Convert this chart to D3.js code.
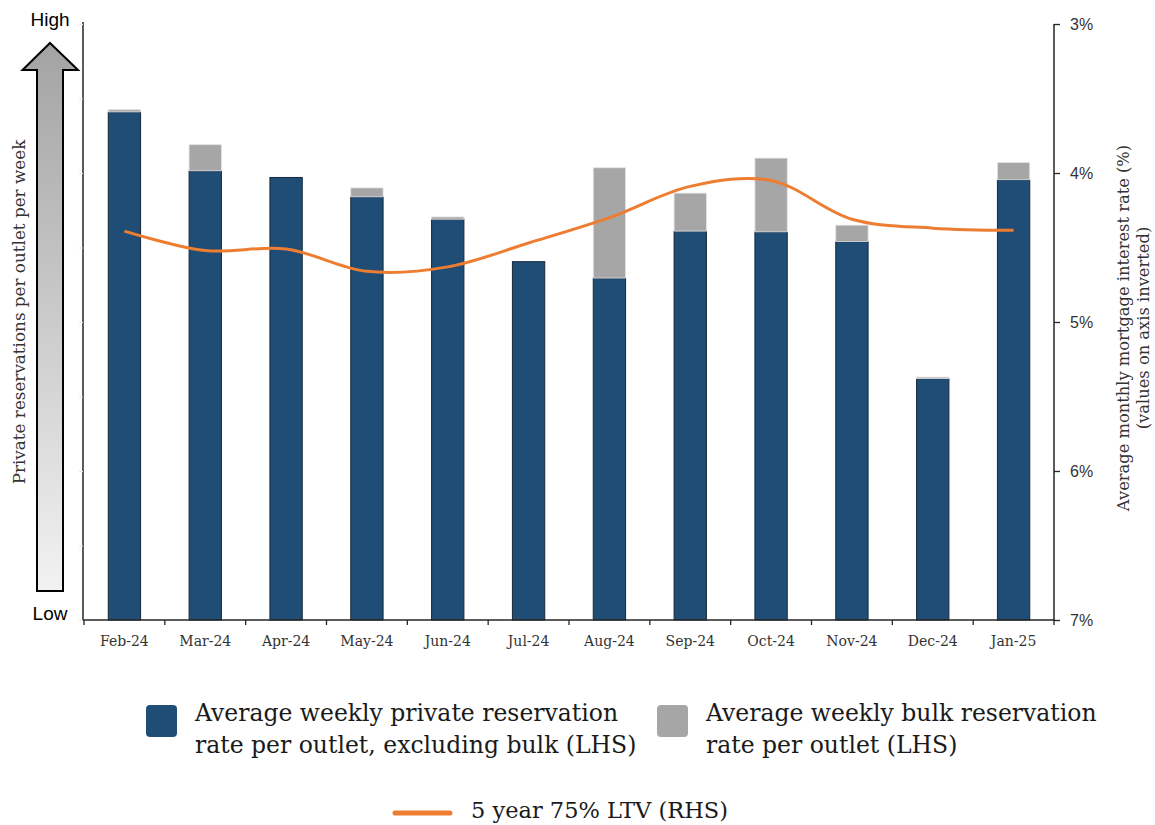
<!DOCTYPE html>
<html>
<head>
<meta charset="utf-8">
<script src="https://cdn.jsdelivr.net/npm/d3@7"></script>
<style>
  html, body { margin: 0; padding: 0; background: #fff; }
  svg { display: block; }
</style>
</head>
<body>
<svg id="chart" width="1155" height="825"></svg>
<script>
// Monthly categories
const months = ["Feb-24", "Mar-24", "Apr-24", "May-24", "Jun-24", "Jul-24",
                "Aug-24", "Sep-24", "Oct-24", "Nov-24", "Dec-24", "Jan-25"];

// Private reservations per outlet per week, excluding bulk (LHS, index units)
const privateRate = [6.82, 6.03, 5.94, 5.68, 5.38, 4.81, 4.59, 5.22, 5.21, 5.08, 3.24, 5.91];

// Bulk reservations per outlet per week, stacked on top (LHS, index units)
const bulkRate = [0.03, 0.35, 0.0, 0.12, 0.03, 0.0, 1.48, 0.51, 0.99, 0.22, 0.02, 0.23];

// 5 year 75% LTV mortgage rate, % (RHS, inverted)
const mortgageRate = [4.39, 4.52, 4.51, 4.66, 4.63, 4.47, 4.30, 4.09, 4.05, 4.31, 4.37, 4.385];

// Axis ticks
const leftTicks = [0, 1, 2, 3, 4, 5, 6, 7, 8];
const rightTicks = [3, 4, 5, 6, 7];

// Legend labels
const legendPrivate = ["Average weekly private reservation", "rate per outlet, excluding bulk (LHS)"];
const legendBulk = ["Average weekly bulk reservation", "rate per outlet (LHS)"];
const legendLine = "5 year 75% LTV (RHS)";

const colPrivate = "#204d75";
const colBulk = "#a6a6a6";
const colLine = "#ed7d31";
const axisCol = "#262626";
const textCol = "#333333";
const serif = "'DejaVu Serif', 'Liberation Serif', serif";
const sans = "'Liberation Sans', Arial, sans-serif";

const svg = d3.select("#chart");

const plot = { left: 84, right: 1054, top: 24, bottom: 620 };

const x = d3.scaleBand()
  .domain(months)
  .range([plot.left, plot.right])
  .paddingInner(0.6)
  .paddingOuter(0.3);

const xTicks = d3.scaleBand().domain(months).range([plot.left, plot.right]).padding(0);

const yLeft = d3.scaleLinear().domain([0, 8]).range([plot.bottom, plot.top]);
const yRight = d3.scaleLinear().domain([3, 7]).range([plot.top, plot.bottom]);

// Left axis: unlabelled ticks
const gLeft = svg.append("g").attr("transform", `translate(${plot.left - 1},0)`)
  .call(d3.axisLeft(yLeft).tickValues(leftTicks).tickSize(4).tickFormat(""));
gLeft.select(".domain").attr("stroke", axisCol).attr("stroke-width", 1.5)
  .attr("d", `M0,${plot.top - 2}V${plot.bottom}`);
gLeft.selectAll(".tick line").attr("stroke", "#e6e6e6");

// Bars: private part
svg.append("g").selectAll("rect")
  .data(months)
  .join("rect")
  .attr("x", (d) => x(d))
  .attr("width", x.bandwidth())
  .attr("y", (d, i) => yLeft(privateRate[i]))
  .attr("height", (d, i) => yLeft(0) - yLeft(privateRate[i]))
  .attr("fill", colPrivate)
  .attr("stroke", "#16283a")
  .attr("stroke-width", 1);

// Bars: bulk part stacked on top
svg.append("g").selectAll("rect")
  .data(months.filter((d, i) => bulkRate[i] > 0))
  .join("rect")
  .attr("x", (d) => x(d))
  .attr("width", x.bandwidth())
  .attr("y", (d) => { const i = months.indexOf(d); return yLeft(privateRate[i] + bulkRate[i]); })
  .attr("height", (d) => { const i = months.indexOf(d); return yLeft(privateRate[i]) - yLeft(privateRate[i] + bulkRate[i]); })
  .attr("fill", colBulk)
  .attr("stroke", "#e3e3e3")
  .attr("stroke-width", 0.8);

// X axis
const gX = svg.append("g").attr("transform", `translate(0,${plot.bottom})`)
  .call(d3.axisBottom(xTicks).tickSize(0).tickPadding(16));
gX.select(".domain").attr("stroke", axisCol).attr("stroke-width", 1.5)
  .attr("d", `M${plot.left - 1},0H${plot.right + 1}`);
gX.selectAll(".tick text")
  .attr("font-family", serif).attr("font-size", 14).attr("fill", textCol);
// Category boundary ticks
svg.append("g").selectAll("line")
  .data(months.concat(["end"]))
  .join("line")
  .attr("x1", (d) => d === "end" ? plot.right : xTicks(d))
  .attr("x2", (d) => d === "end" ? plot.right : xTicks(d))
  .attr("y1", plot.bottom)
  .attr("y2", plot.bottom + 5)
  .attr("stroke", axisCol)
  .attr("stroke-width", 1.3);

// Right axis (inverted)
const gRight = svg.append("g").attr("transform", `translate(${plot.right},0)`)
  .call(d3.axisRight(yRight).tickValues(rightTicks).tickSize(6).tickPadding(10)
    .tickFormat((d) => d + "%"));
gRight.select(".domain").attr("stroke", axisCol).attr("stroke-width", 1.5)
  .attr("d", `M0,${plot.top}V${plot.bottom}`);
gRight.selectAll(".tick line").attr("stroke", axisCol).attr("stroke-width", 1.3);
gRight.selectAll(".tick text")
  .attr("font-family", sans).attr("font-size", 16).attr("fill", textCol);

// Mortgage rate line
const line = d3.line()
  .x((d, i) => xTicks(months[i]) + xTicks.bandwidth() / 2)
  .y((d) => yRight(d))
  .curve(d3.curveCatmullRom.alpha(0.5));

svg.append("path")
  .datum(mortgageRate)
  .attr("d", line)
  .attr("fill", "none")
  .attr("stroke", colLine)
  .attr("stroke-width", 3);

// Right axis title
const rTitle = svg.append("text")
  .attr("transform", "translate(1129,328) rotate(-90)")
  .attr("text-anchor", "middle")
  .attr("font-family", serif).attr("font-size", 16.3).attr("fill", textCol);
rTitle.append("tspan").attr("x", 0).attr("dy", 0).text("Average monthly mortgage interest rate (%)");
rTitle.append("tspan").attr("x", 0).attr("dy", 19.5).text("(values on axis inverted)");

// Left direction arrow with gradient
const defs = svg.append("defs");
const grad = defs.append("linearGradient")
  .attr("id", "arrowFill").attr("x1", 0).attr("y1", 0).attr("x2", 0).attr("y2", 1);
grad.append("stop").attr("offset", "0%").attr("stop-color", "#a3a3a3");
grad.append("stop").attr("offset", "100%").attr("stop-color", "#f2f2f2");

const arrowPts = [[50, 43], [78, 70], [63, 70], [63, 591], [37, 591], [37, 70], [22.5, 70]];
svg.append("path")
  .attr("d", d3.line()(arrowPts) + "Z")
  .attr("fill", "url(#arrowFill)")
  .attr("stroke", "#000")
  .attr("stroke-width", 2)
  .attr("stroke-linejoin", "miter");

svg.append("text").attr("x", 50).attr("y", 26).attr("text-anchor", "middle")
  .attr("font-family", sans).attr("font-size", 19).attr("fill", "#000").text("High");
svg.append("text").attr("x", 50).attr("y", 620).attr("text-anchor", "middle")
  .attr("font-family", sans).attr("font-size", 19).attr("fill", "#000").text("Low");

svg.append("text")
  .attr("transform", "translate(25,312) rotate(-90)")
  .attr("text-anchor", "middle")
  .attr("font-family", serif).attr("font-size", 16.8).attr("fill", textCol)
  .text("Private reservations per outlet per week");

// Legend
const legend = svg.append("g");
function legendItem(x0, color, lines) {
  legend.append("rect").attr("x", x0).attr("y", 705).attr("width", 31).attr("height", 32)
    .attr("rx", 4).attr("fill", color);
  const t = legend.append("text").attr("font-family", serif).attr("font-size", 23.5)
    .attr("fill", "#1a1a1a");
  lines.forEach((s, i) => {
    t.append("tspan").attr("x", x0 + 49).attr("y", 721 + i * 32).text(s);
  });
}
legendItem(146, colPrivate, legendPrivate);
legendItem(657, colBulk, legendBulk);

legend.append("line").attr("x1", 395).attr("x2", 450).attr("y1", 813).attr("y2", 813)
  .attr("stroke", colLine).attr("stroke-width", 5).attr("stroke-linecap", "round");
legend.append("text").attr("x", 471).attr("y", 818).attr("font-family", serif)
  .attr("font-size", 22.5).attr("fill", "#1a1a1a").text(legendLine);
</script>
</body>
</html>
